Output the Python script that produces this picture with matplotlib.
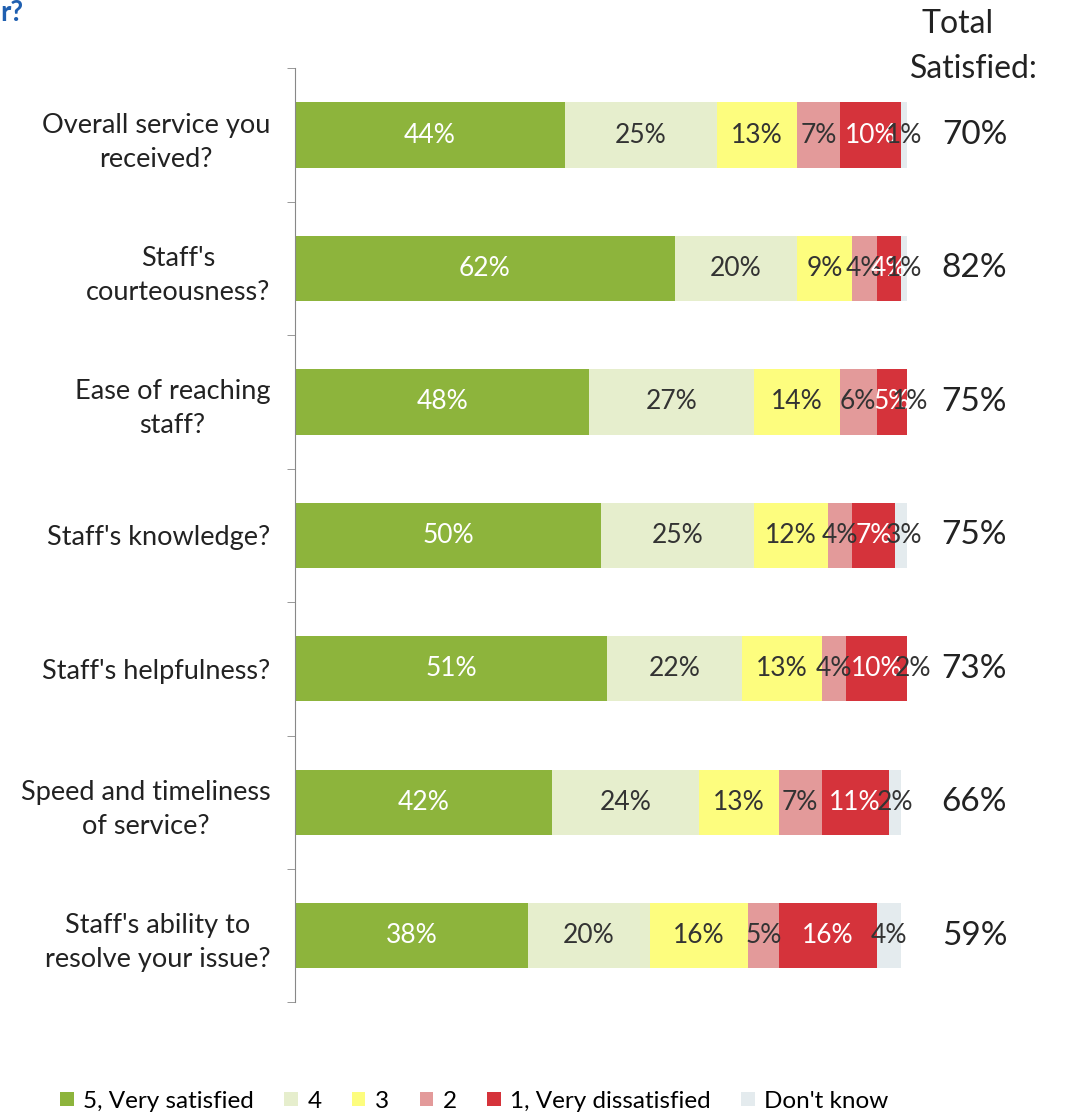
import numpy as np
import matplotlib.pyplot as plt

plt.rcParams['font.family'] = ['Lato', 'DejaVu Sans']

questions = ["Overall service you\nreceived?", "Staff's\ncourteousness?", "Ease of reaching\nstaff?",
             "Staff's knowledge?", "Staff's helpfulness?", "Speed and timeliness\nof service?",
             "Staff's ability to\nresolve your issue?"]
series = ["5, Very satisfied", "4", "3", "2", "1, Very dissatisfied", "Don't know"]
very_sat = [44, 62, 48, 50, 51, 42, 38]
sat4 = [25, 20, 27, 25, 22, 24, 20]
neutral3 = [13, 9, 14, 12, 13, 13, 16]
dis2 = [7, 4, 6, 4, 4, 7, 5]
very_dis = [10, 4, 5, 7, 10, 11, 16]
dont_know = [1, 1, 1, 3, 2, 2, 4]
total_sat = [70, 82, 75, 75, 73, 66, 59]

colors = ["#8db43c", "#e6eecd", "#fdfd7e", "#e39a9a", "#d5333b", "#e4ebee"]
txtcol = ["white", "#333333", "#333333", "#333333", "white", "#333333"]

fig = plt.figure(figsize=(10.66, 11.2), dpi=100)
ax = fig.add_axes([0.277, 0.105, 0.574, 0.834])

data = [very_sat, sat4, neutral3, dis2, very_dis, dont_know]
y = np.arange(len(questions))
left = np.zeros(len(questions))
for k, vals in enumerate(data):
    vals = np.array(vals, dtype=float)
    ax.barh(y, vals, left=left, height=0.49, color=colors[k], label=series[k])
    for i in range(len(y)):
        ax.text(left[i] + vals[i] / 2, y[i], "%d%%" % vals[i], ha='center', va='center',
                fontsize=19, color=txtcol[k])
    left += vals

ax.set_xlim(0, 100)
ax.set_ylim(len(questions) - 0.5, -0.5)
ax.set_yticks(y)
ax.set_yticklabels(questions, fontsize=19.5, color="#222222", multialignment='center',
                   linespacing=1.45)
ax.tick_params(axis='y', which='major', length=0, pad=18)
ax.set_yticks(np.arange(-0.5, len(questions)), minor=True)
ax.tick_params(axis='y', which='minor', length=6, color="#888888")
ax.set_xticks([])
for s in ['top', 'right', 'bottom']:
    ax.spines[s].set_visible(False)
ax.spines['left'].set_color("#888888")

for i in range(len(y)):
    ax.text(1.11, i, "%d%%" % total_sat[i], transform=ax.get_yaxis_transform(),
            ha='center', va='center', fontsize=24, color="#222222")
fig.text(0.898, 0.979, "Total", ha='center', va='center', fontsize=23, color="#222222")
fig.text(0.914, 0.938, "Satisfied:", ha='center', va='center', fontsize=23, color="#222222")
fig.text(0.0, 0.988, "r?", ha='left', va='center', fontsize=20, color="#1f5fb0", fontweight='bold')

handles, labels = ax.get_legend_handles_labels()
fig.legend(handles, labels, loc='lower center', bbox_to_anchor=(0.445, -0.012), ncol=6,
           frameon=False, fontsize=17.5, handlelength=0.55, handleheight=0.55,
           columnspacing=1.25, handletextpad=0.4)

fig.savefig("out.png", dpi=100)
